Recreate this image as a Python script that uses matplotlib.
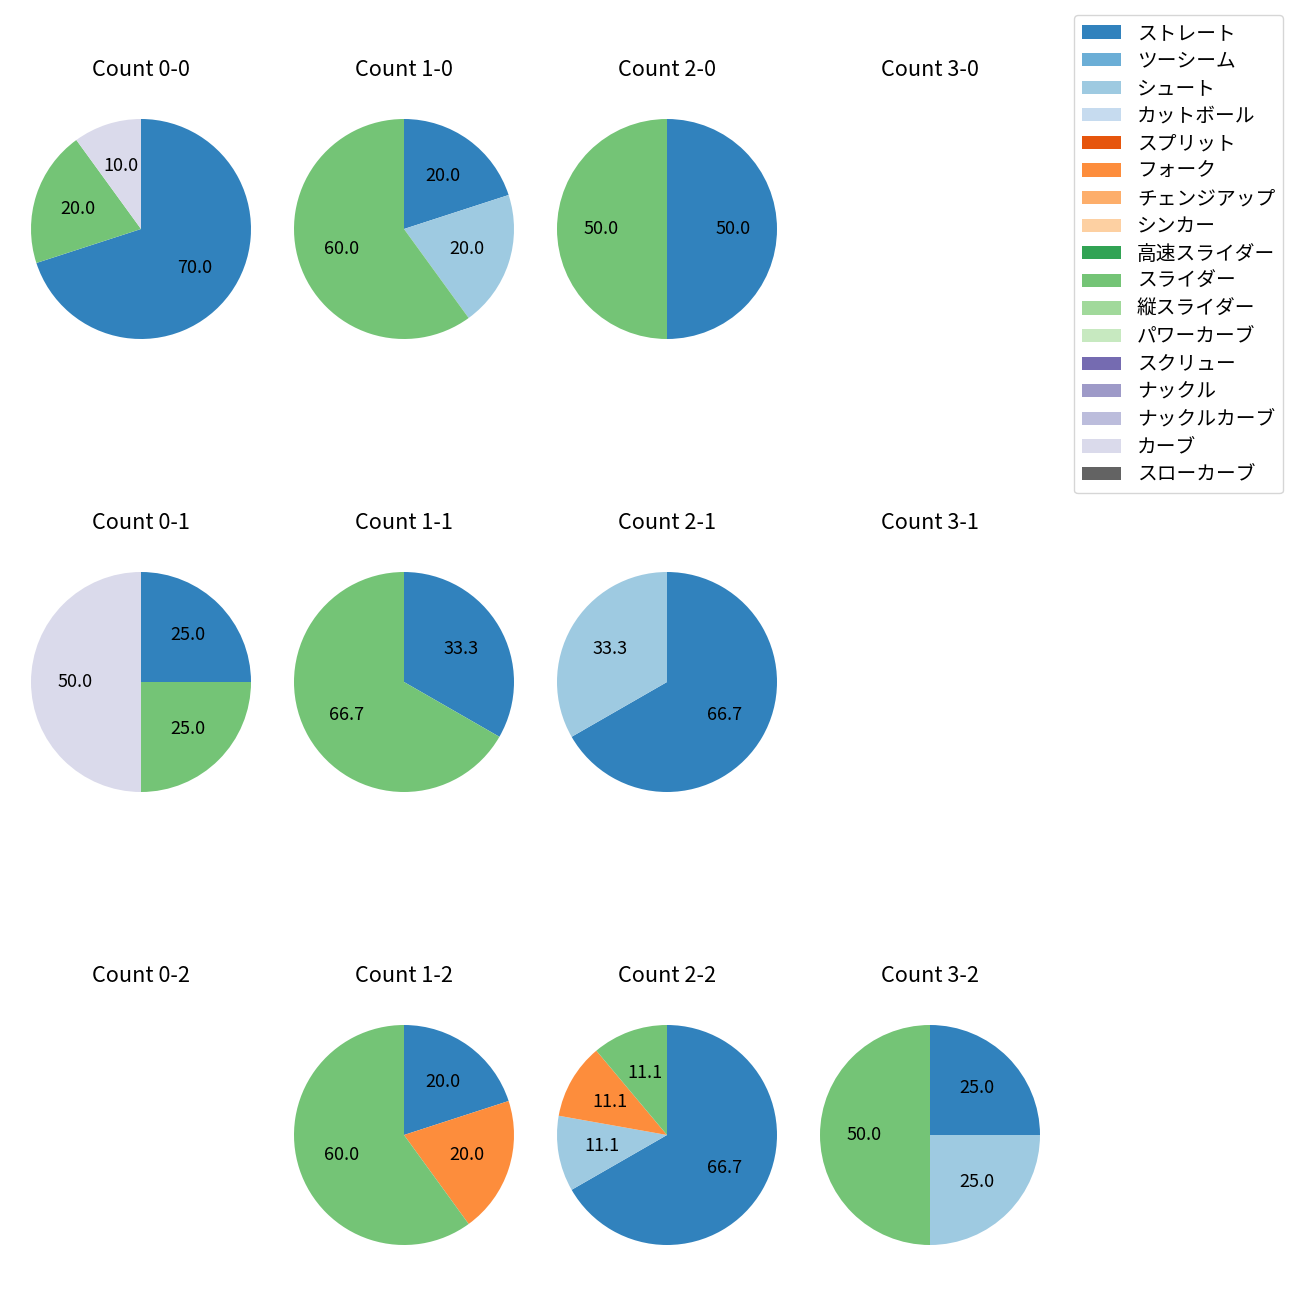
import matplotlib
matplotlib.use("Agg")
import matplotlib.pyplot as plt
from matplotlib.patches import Patch

plt.rcParams['font.family'] = ['Noto Sans CJK JP', 'DejaVu Sans']

pitch_types = ['ストレート', 'ツーシーム', 'シュート', 'カットボール', 'スプリット', 'フォーク',
               'チェンジアップ', 'シンカー', '高速スライダー', 'スライダー', '縦スライダー',
               'パワーカーブ', 'スクリュー', 'ナックル', 'ナックルカーブ', 'カーブ', 'スローカーブ']
cmap = plt.get_cmap('tab20c')
colors = [cmap(i) for i in range(len(pitch_types))]

# percentages per count (balls-strikes), keyed by pitch type
count_0_0 = {'ストレート': 70.0, 'スライダー': 20.0, 'カーブ': 10.0}
count_1_0 = {'ストレート': 20.0, 'シュート': 20.0, 'スライダー': 60.0}
count_2_0 = {'ストレート': 50.0, 'スライダー': 50.0}
count_3_0 = {}
count_0_1 = {'ストレート': 25.0, 'スライダー': 25.0, 'カーブ': 50.0}
count_1_1 = {'ストレート': 33.3, 'スライダー': 66.7}
count_2_1 = {'ストレート': 66.7, 'シュート': 33.3}
count_3_1 = {}
count_0_2 = {}
count_1_2 = {'ストレート': 20.0, 'フォーク': 20.0, 'スライダー': 60.0}
count_2_2 = {'ストレート': 66.7, 'シュート': 11.1, 'フォーク': 11.1, 'スライダー': 11.1}
count_3_2 = {'ストレート': 25.0, 'シュート': 25.0, 'スライダー': 50.0}

grid = [
    [('Count 0-0', count_0_0), ('Count 1-0', count_1_0), ('Count 2-0', count_2_0), ('Count 3-0', count_3_0)],
    [('Count 0-1', count_0_1), ('Count 1-1', count_1_1), ('Count 2-1', count_2_1), ('Count 3-1', count_3_1)],
    [('Count 0-2', count_0_2), ('Count 1-2', count_1_2), ('Count 2-2', count_2_2), ('Count 3-2', count_3_2)],
]

fig = plt.figure(figsize=(13, 13), dpi=100)

W = 1300.0
side = 275.0
col_x = [141, 404, 667, 930]
row_y = [229, 682, 1135]

for r, row in enumerate(grid):
    for c, (title, data) in enumerate(row):
        ax = fig.add_axes([(col_x[c] - side / 2) / W, 1 - (row_y[r] + side / 2) / W, side / W, side / W])
        ax.set_title(title, fontsize=15.6, pad=11.4)
        if not data:
            ax.axis('off')
            continue
        labels = [p for p in pitch_types if p in data]
        vals = [data[p] for p in labels]
        cols = [colors[pitch_types.index(p)] for p in labels]
        ax.pie(vals, colors=cols, startangle=90, counterclock=False,
               autopct='%.1f', textprops={'fontsize': 13})

handles = [Patch(facecolor=colors[i], label=p) for i, p in enumerate(pitch_types)]
fig.legend(handles=handles, loc='upper right', bbox_to_anchor=(1283 / W, 1 - 15 / W),
           borderaxespad=0, fontsize=14.2, labelspacing=0.335, handleheight=0.65)

fig.savefig('out.png')
